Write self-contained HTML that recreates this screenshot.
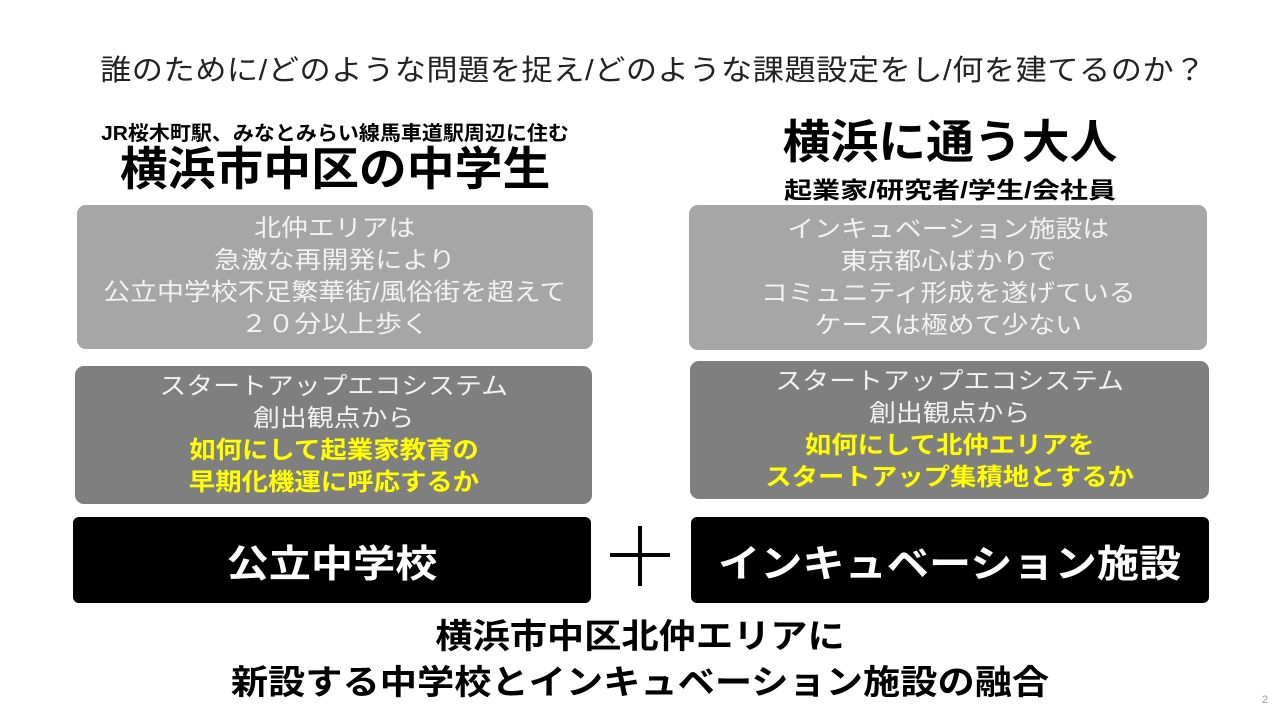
<!DOCTYPE html>
<html><head><meta charset="utf-8"><style>
body{margin:0;width:1280px;height:720px;background:#fff;position:relative;overflow:hidden;font-family:"Liberation Sans","Noto Sans CJK JP",sans-serif;}
.a{position:absolute;text-align:center;white-space:nowrap;transform:scaleX(1.1);}
.box{position:absolute;border-radius:9px;display:flex;flex-direction:column;justify-content:center;align-items:center;text-align:center;white-space:nowrap;}
.box>div{transform:scaleX(1.12);}
.l{background:#a6a6a6;color:#f2f2f2;font-size:24px;line-height:32px;}
.d{background:#7f7f7f;color:#f2f2f2;font-size:24px;line-height:32px;}
.y{color:#ffff00;font-weight:bold;}
.k{background:#000;color:#fff;font-size:38px;font-weight:bold;border-radius:6px;}
.k>div{transform:scaleX(1.11);}
</style></head><body>
<div class="a" style="left:13px;width:1280px;top:47px;font-size:29px;color:#222;letter-spacing:0.5px;transform:scaleX(1.075);">誰のために/どのような問題を捉え/どのような課題設定をし/何を建てるのか？</div>
<div class="a" style="left:75px;width:520px;top:117px;font-size:20px;font-weight:bold;transform:scaleX(1.05);">JR桜木町駅、みなとみらい線馬車道駅周辺に住む</div>
<div class="a" style="left:75px;width:520px;top:139px;font-size:46px;font-weight:bold;line-height:60px;transform:scaleX(1.04);">横浜市中区の中学生</div>
<div class="a" style="left:690px;width:520px;top:112px;font-size:46px;font-weight:bold;line-height:60px;transform:scaleX(1.04);">横浜に通う大人</div>
<div class="a" style="left:690px;width:520px;top:171px;font-size:23px;font-weight:bold;transform:scaleX(1.22);">起業家/研究者/学生/会社員</div>
<div class="box l" style="left:77px;top:205px;width:516px;height:144px;"><div>北仲エリアは<br>急激な再開発により<br>公立中学校不足繁華街/風俗街を超えて<br>２０分以上歩く</div></div>
<div class="box l" style="left:689px;top:205px;width:518px;height:145px;"><div>インキュベーション施設は<br>東京都心ばかりで<br>コミュニティ形成を遂げている<br>ケースは極めて少ない</div></div>
<div class="box d" style="left:75px;top:366px;width:517px;height:138px;"><div>スタートアップエコシステム<br>創出観点から</div><div class="y" style="transform:scaleX(1.1)">如何にして起業家教育の<br>早期化機運に呼応するか</div></div>
<div class="box d" style="left:690px;top:361px;width:519px;height:138px;"><div>スタートアップエコシステム<br>創出観点から</div><div class="y" style="transform:scaleX(1.1)">如何にして北仲エリアを<br>スタートアップ集積地とするか</div></div>
<div class="box k" style="left:73px;top:517px;width:518px;height:86px;"><div>公立中学校</div></div>
<div class="box k" style="left:691px;top:517px;width:518px;height:86px;"><div>インキュベーション施設</div></div>
<div style="position:absolute;left:610px;top:553px;width:60px;height:4px;background:#000"></div>
<div style="position:absolute;left:638px;top:526px;width:4px;height:60px;background:#000"></div>
<div class="a" style="left:0;width:1280px;top:614px;font-size:34px;font-weight:bold;line-height:46px;transform:scaleX(1.095);">横浜市中区北仲エリアに<br>新設する中学校とインキュベーション施設の融合</div>
<div style="position:absolute;left:1262px;top:694px;font-size:11px;color:#999;">2</div>
</body></html>
